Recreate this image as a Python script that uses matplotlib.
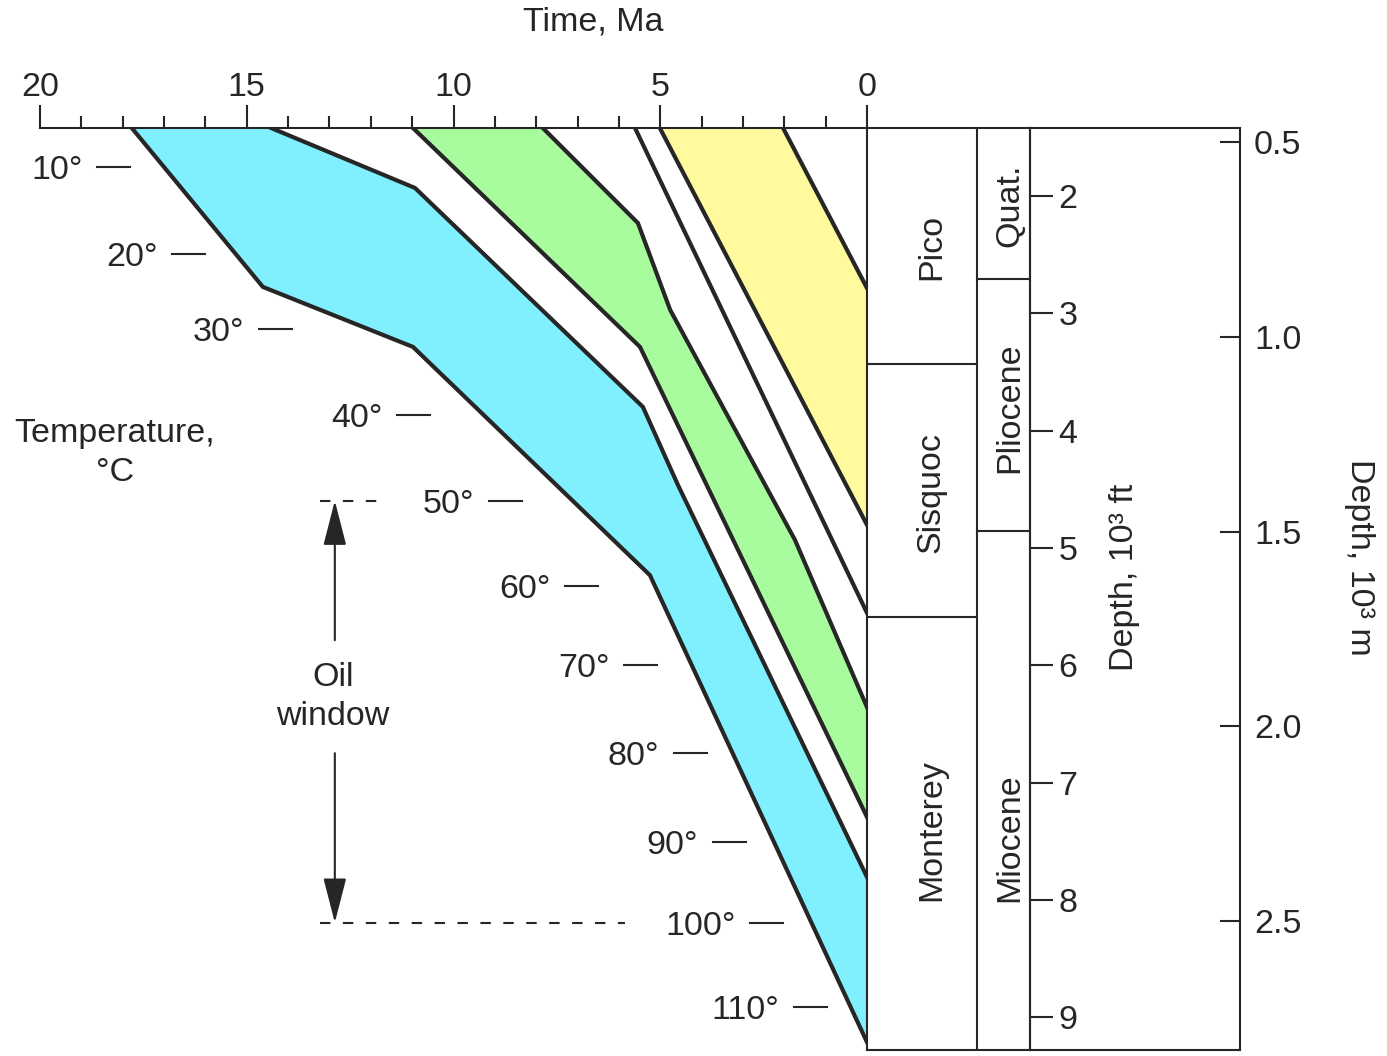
import numpy as np
from matplotlib import pyplot as plt

plt.rcParams['font.family'] = ['Liberation Sans', 'DejaVu Sans']

# depth in 10^3 m, time in Ma
top_d = 0.464
bot_d = 2.831

# burial curves (horizons), from deposition at the top to present day
a_t = [17.78, 14.61, 10.98, 5.25, 0.0]
a_d = [top_d, 0.872, 1.026, 1.612, 2.811]
b_t = [14.41, 10.93, 5.42, 4.57, 0.0]
b_d = [top_d, 0.618, 1.180, 1.381, 2.387]
c_t = [10.98, 5.49, 0.0]
c_d = [top_d, 1.026, 2.233]
d_t = [7.84, 5.54, 4.76, 1.74, 0.0]
d_d = [top_d, 0.708, 0.931, 1.522, 1.951]
e_t = [5.61, 0.0]
e_d = [top_d, 1.709]
f_t = [5.01, 0.0]
f_d = [top_d, 1.483]
g_t = [2.03, 0.0]
g_d = [top_d, 0.875]

# isotherms
temps = [10, 20, 30, 40, 50, 60, 70, 80, 90, 100, 110]
temp_depth = [0.564, 0.788, 0.980, 1.201, 1.421, 1.640, 1.843, 2.068, 2.297, 2.504, 2.720]
temp_mark_t = [17.82, 16.01, 13.91, 10.57, 8.34, 6.51, 5.08, 3.87, 2.93, 2.03, 0.97]

oil_top = 1.421
oil_base = 2.504

formations = ['Pico', 'Sisquoc', 'Monterey']
formation_base = [1.070, 1.720, bot_d]
formation_label_d = [0.770, 1.399, 2.266]
epochs = ['Quat.', 'Pliocene', 'Miocene']
epoch_base = [0.852, 1.499, bot_d]
epoch_label_d = [0.662, 1.183, 2.287]

ft_ticks = [2, 3, 4, 5, 6, 7, 8, 9]
m_ticks = [0.5, 1.0, 1.5, 2.0, 2.5]

ink = '#262626'
fs = 24.5

W, H = 1387, 1056
def box(x0, y0, x1, y1):
    return [x0 / W, 1 - y1 / H, (x1 - x0) / W, (y1 - y0) / H]

fig = plt.figure(figsize=(W / 100, H / 100), dpi=100)

# main burial plot
ax = fig.add_axes(box(40, 128, 867, 1050))
ax.patch.set_visible(False)
ax.set_xlim(20, 0)
ax.set_ylim(bot_d, top_d)
for s in ['left', 'bottom']:
    ax.spines[s].set_visible(False)
for s in ['top', 'right']:
    ax.spines[s].set_linewidth(1.5)
    ax.spines[s].set_color(ink)
ax.xaxis.tick_top()
ax.set_xticks([20, 15, 10, 5, 0])
ax.set_xticks(np.arange(0, 21, 1), minor=True)
ax.tick_params(axis='x', which='major', direction='out', length=16.5, width=1.5,
               pad=1.5, labelsize=fs, color=ink, labelcolor=ink)
ax.tick_params(axis='x', which='minor', direction='out', length=8.5, width=1.5, color=ink)
ax.set_yticks([])

ax.fill(a_t + b_t[::-1], a_d + b_d[::-1], color='#80F0FF', lw=0)
ax.fill(c_t + d_t[::-1], c_d + d_d[::-1], color='#A8FC9E', lw=0)
ax.fill(f_t + g_t[::-1], f_d + g_d[::-1], color='#FFFA9E', lw=0)
for t, d in [(a_t, a_d), (b_t, b_d), (c_t, c_d), (d_t, d_d),
             (e_t, e_d), (f_t, f_d), (g_t, g_d)]:
    ax.plot(t, d, color=ink, lw=3.0)

for T, d, te in zip(temps, temp_depth, temp_mark_t):
    ax.plot([te + 0.8, te], [d, d], color=ink, lw=1.5)
    ax.text(te + 1.15, d, f'{T}°', ha='right', va='center_baseline',
            fontsize=fs, color=ink)

# oil window
ax.plot([13.23, 11.61], [oil_top, oil_top], color=ink, lw=1.5, dashes=(5, 6))
ax.plot([13.23, 5.85], [oil_base, oil_base], color=ink, lw=1.5, dashes=(5, 6))
arr = dict(arrowstyle='-|>,head_length=1.4,head_width=0.36', color=ink, lw=1.5,
           mutation_scale=20, shrinkA=0, shrinkB=0)
ax.annotate('', xy=(12.87, oil_top), xytext=(12.87, 1.779), arrowprops=arr)
ax.annotate('', xy=(12.87, oil_base), xytext=(12.87, 2.069), arrowprops=arr)
ax.text(12.91, 1.925, 'Oil\nwindow', ha='center', va='center', fontsize=fs,
        color=ink, linespacing=1.3)

fig.text(593 / W, 1 - 22 / H, 'Time, Ma', ha='center', va='center', fontsize=fs, color=ink)
fig.text(115 / W, 1 - 453 / H, 'Temperature,\n°C', ha='center', va='center',
         fontsize=fs, color=ink, linespacing=1.3)

# stratigraphic columns
ax_col = fig.add_axes(box(867, 128, 1030, 1050))
ax_col.patch.set_visible(False)
ax_col.set_xlim(0, 1)
ax_col.set_ylim(bot_d, top_d)
ax_col.set_xticks([])
ax_col.set_yticks([])
ax_col.spines['left'].set_visible(False)
for s in ['top', 'bottom', 'right']:
    ax_col.spines[s].set_linewidth(1.5)
    ax_col.spines[s].set_color(ink)
split = 0.675
ax_col.axvline(split, color=ink, lw=1.5)
for base in formation_base[:-1]:
    ax_col.plot([0, split], [base, base], color=ink, lw=1.5)
for base in epoch_base[:-1]:
    ax_col.plot([split, 1], [base, base], color=ink, lw=1.5)
for name, d in zip(formations, formation_label_d):
    ax_col.text(0.395, d, name, rotation=90, ha='center', va='center', fontsize=fs, color=ink)
for name, d in zip(epochs, epoch_label_d):
    ax_col.text(0.877, d, name, rotation=90, ha='center', va='center', fontsize=fs, color=ink)

# depth in feet
ax_ft = ax_col.twinx()
ax_ft.patch.set_visible(False)
ax_ft.set_ylim(9.28, 1.42)
for s in ['left', 'top', 'bottom']:
    ax_ft.spines[s].set_visible(False)
ax_ft.spines['right'].set_linewidth(1.5)
ax_ft.spines['right'].set_color(ink)
ax_ft.set_yticks(ft_ticks)
ax_ft.tick_params(axis='y', direction='out', length=16.5, width=1.5, pad=4,
                  labelsize=fs, color=ink, labelcolor=ink)
fig.text(1125 / W, 1 - 577 / H, 'Depth, 10³ ft', rotation=90, ha='center', va='center',
         fontsize=fs, color=ink)

# depth in metres
ax_m = fig.add_axes(box(1030, 128, 1240, 1050))
ax_m.patch.set_visible(False)
ax_m.set_ylim(bot_d, top_d)
ax_m.set_xticks([])
ax_m.spines['left'].set_visible(False)
for s in ['top', 'bottom', 'right']:
    ax_m.spines[s].set_linewidth(1.5)
    ax_m.spines[s].set_color(ink)
ax_m.yaxis.tick_right()
ax_m.set_yticks(m_ticks)
ax_m.set_yticklabels([f'{v:.1f}' for v in m_ticks])
ax_m.tick_params(axis='y', direction='in', length=14.5, width=1.5, pad=10,
                 labelsize=fs, color=ink, labelcolor=ink)
fig.text(1360 / W, 1 - 557 / H, 'Depth, 10³ m', rotation=270, ha='center', va='center',
         fontsize=fs, color=ink)

fig.savefig('out.png', dpi=100)
